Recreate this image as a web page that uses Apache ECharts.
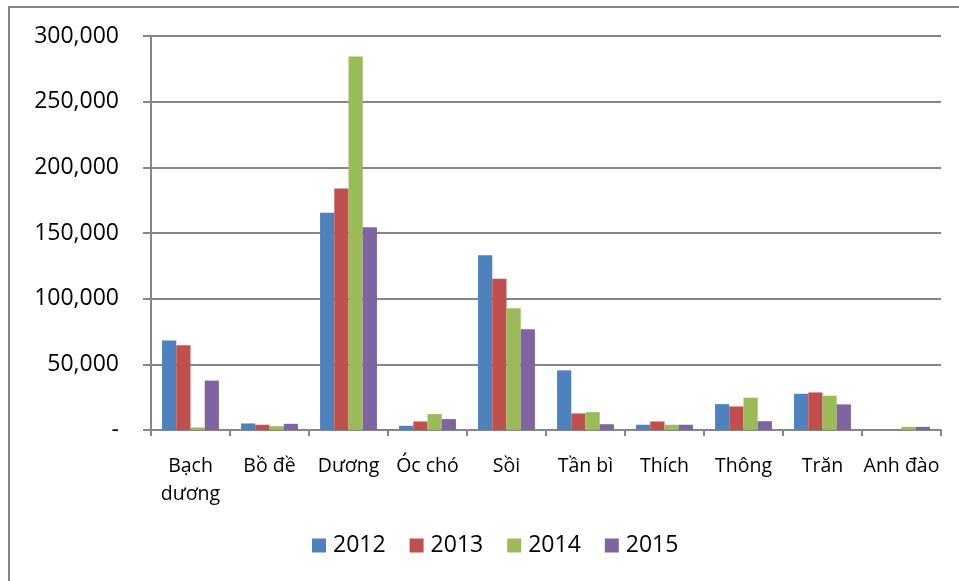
<!DOCTYPE html>
<html>
<head>
<meta charset="utf-8">
<script src="https://cdn.jsdelivr.net/npm/echarts@6/dist/echarts.min.js"></script>
<style>
  html, body { margin: 0; padding: 0; background: #fff; }
  #main { width: 959px; height: 581px; }
</style>
</head>
<body>
<div id="main"></div>
<script>
var categories = ['Bạch\ndương', 'Bồ đề', 'Dương', 'Óc chó', 'Sồi', 'Tần bì', 'Thích', 'Thông', 'Trăn', 'Anh đào'];
var years = ['2012', '2013', '2014', '2015'];
var v2012 = [68100, 5000, 165500, 3200, 133000, 45400, 4000, 19700, 27600, 0];
var v2013 = [64500, 4000, 183800, 6500, 115100, 12600, 6500, 17900, 28600, 0];
var v2014 = [1900, 2900, 284400, 12100, 92700, 13600, 4000, 24600, 26100, 2400];
var v2015 = [37600, 4700, 154400, 8300, 76700, 4400, 4000, 6700, 19500, 2400];
var colors = ['#4f81bd', '#c0504d', '#9bbb59', '#8064a2'];

var chart = echarts.init(document.getElementById('main'));
var font = '"Open Sans", sans-serif';

function bar(name, data) {
    return {
        name: name,
        type: 'bar',
        data: data,
        barGap: '0%',
        barCategoryGap: '28%'
    };
}

chart.setOption({
    animation: false,
    color: colors,
    textStyle: { fontFamily: font },
    graphic: [{
        type: 'rect',
        shape: { x: 9, y: 7, width: 960, height: 590 },
        style: { fill: 'none', stroke: '#868686', lineWidth: 2 }
    }],
    grid: { left: 151, right: 18, top: 36, bottom: 151, containLabel: false },
    legend: {
        data: years,
        top: 529,
        left: 307,
        icon: 'rect',
        itemWidth: 14,
        itemHeight: 14,
        itemGap: 24,
        textStyle: { fontSize: 23, color: '#000', fontFamily: font, padding: [0, 0, 0, 2] }
    },
    xAxis: {
        type: 'category',
        data: categories,
        axisLine: { lineStyle: { color: '#868686', width: 2 } },
        axisTick: { show: true, length: 6, lineStyle: { color: '#868686', width: 2 } },
        axisLabel: { interval: 0, color: '#000', fontSize: 19.5, margin: 22, lineHeight: 28, fontFamily: font }
    },
    yAxis: {
        type: 'value',
        min: 0,
        max: 300000,
        interval: 50000,
        axisLine: { show: true, lineStyle: { color: '#868686', width: 2 } },
        axisTick: { show: true, inside: false, length: 8, lineStyle: { color: '#868686', width: 2 } },
        splitLine: { lineStyle: { color: '#868686', width: 2 } },
        axisLabel: {
            color: '#000',
            fontSize: 23,
            margin: 32,
            fontFamily: font,
            formatter: function (v) {
                return v === 0 ? '-' : v.toLocaleString('en-US');
            }
        }
    },
    series: [
        bar(years[0], v2012),
        bar(years[1], v2013),
        bar(years[2], v2014),
        bar(years[3], v2015)
    ]
});
</script>
</body>
</html>
